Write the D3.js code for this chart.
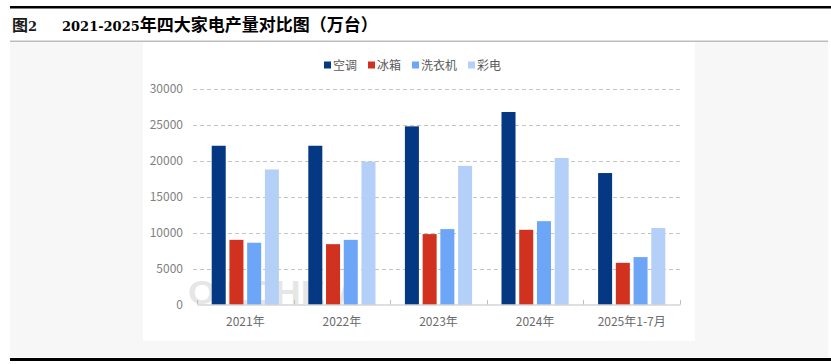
<!DOCTYPE html>
<html><head><meta charset="utf-8">
<script src="https://cdn.jsdelivr.net/npm/d3@7"></script>
<style>html,body{margin:0;padding:0;background:#fff;}svg{display:block;}</style>
</head><body>
<svg id="c" width="831" height="364"></svg>
<script>
const categories = ["2021年","2022年","2023年","2024年","2025年1-7月"];
const seriesNames = ["空调","冰箱","洗衣机","彩电"];
const acValues = [22100, 22100, 24800, 26800, 18300];
const fridgeValues = [9000, 8400, 9800, 10400, 5800];
const washerValues = [8600, 9000, 10500, 11600, 6600];
const tvValues = [18800, 19900, 19300, 20400, 10650];
const yTicks = [0, 5000, 10000, 15000, 20000, 25000, 30000];
const colors = ["#043882", "#d1311f", "#6da6f6", "#b5d0f8"];
const titleLabel = "图2";
const titleNum = "2021-2025";
const titleCjk = "年四大家电产量对比图（万台）";

const seriesValues = [acValues, fridgeValues, washerValues, tvValues];
const svg = d3.select("#c");
const CJK = "'Noto Sans CJK SC','Noto Sans',sans-serif";

// page frame
svg.append("rect").attr("x",10).attr("y",42).attr("width",818).attr("height",315).attr("fill","#f7f7f7");
svg.append("rect").attr("x",10).attr("y",6).attr("width",821).attr("height",2.5).attr("fill","#000");
svg.append("rect").attr("x",10).attr("y",40.5).attr("width",818).attr("height",1.5).attr("fill","#bdbdbd");
svg.append("rect").attr("x",10).attr("y",358).attr("width",821).attr("height",3).attr("fill","#000");
svg.append("rect").attr("x",143).attr("y",42).attr("width",552).attr("height",299).attr("fill","#fff");

// title
const t1 = svg.append("text").attr("x",12).attr("y",31).attr("font-weight","bold").attr("fill","#1a1a1a");
t1.append("tspan").attr("font-family",CJK).attr("font-size",16).text(titleLabel.slice(0,1));
t1.append("tspan").attr("font-family","'DejaVu Serif',serif").attr("font-size",13).text(titleLabel.slice(1));
const t2 = svg.append("text").attr("x",62).attr("y",31).attr("font-weight","bold").attr("fill","#000");
t2.append("tspan").attr("font-family","'DejaVu Serif',serif").attr("font-size",13).text(titleNum);
t2.append("tspan").attr("font-family",CJK).attr("font-size",17).text(titleCjk);

// scales
const x0 = d3.scaleBand().domain(categories).range([197,680]).paddingInner(0).paddingOuter(0);
const x1 = d3.scaleBand().domain(seriesNames).range([0,x0.bandwidth()]).paddingInner(0.21).paddingOuter(0.83);
const y = d3.scaleLinear().domain([0,30000]).range([304.5,89]);

// watermark
svg.append("text").attr("x",188).attr("y",304).attr("font-family","'Liberation Sans',sans-serif")
  .attr("font-weight","bold").attr("font-size",34).attr("fill","#e6e6e6")
  .attr("textLength",167).attr("lengthAdjust","spacingAndGlyphs").text("OILCHEM");

// gridlines
svg.append("g").selectAll("line").data(yTicks.filter(d=>d>0)).join("line")
  .attr("x1",193).attr("x2",680).attr("y1",d=>Math.round(y(d))+0.5).attr("y2",d=>Math.round(y(d))+0.5)
  .attr("stroke","#c4c4c4").attr("stroke-dasharray","4,3").attr("stroke-width",1);

// y labels
svg.append("g").selectAll("text").data(yTicks).join("text")
  .attr("x",183).attr("y",d=>y(d)+4).attr("text-anchor","end")
  .attr("font-family",CJK).attr("font-size",12).attr("fill","#7f7f7f").text(d=>d);

// bars
const groups = svg.append("g").selectAll("g").data(categories).join("g")
  .attr("transform",d=>`translate(${x0(d)},0)`);
groups.selectAll("rect").data((c,i)=>seriesNames.map((s,j)=>({s,j,v:seriesValues[j][i]}))).join("rect")
  .attr("x",d=>x1(d.s)).attr("width",x1.bandwidth())
  .attr("y",d=>y(d.v)).attr("height",d=>y(0)-y(d.v)).attr("fill",d=>colors[d.j]);

// x axis
const xAxis = d3.axisBottom(x0).tickSize(0).tickPadding(13);
const ax = svg.append("g").attr("transform","translate(0,304.5)").call(xAxis);
ax.select(".domain").attr("stroke","#bfbfbf");
ax.selectAll("text").attr("font-family",CJK).attr("font-size",12).attr("fill","#6b6b6b");
const bounds = categories.map(c=>x0(c)).concat([x0.range()[1]]);
svg.append("g").selectAll("line").data(bounds).join("line")
  .attr("x1",d=>Math.round(d)+0.5).attr("x2",d=>Math.round(d)+0.5).attr("y1",300).attr("y2",304.5)
  .attr("stroke","#bfbfbf");

// legend
const lg = svg.append("g").attr("transform","translate(324,65)");
let lx = 0;
seriesNames.forEach((s,j)=>{
  lg.append("rect").attr("x",lx).attr("y",-3.5).attr("width",7).attr("height",7).attr("fill",colors[j]);
  const tx = lg.append("text").attr("x",lx+9).attr("y",4.5).attr("font-family",CJK).attr("font-size",12)
    .attr("fill","#595959").text(s);
  lx += 9 + tx.node().getComputedTextLength() + 11;
});
</script>
</body></html>
